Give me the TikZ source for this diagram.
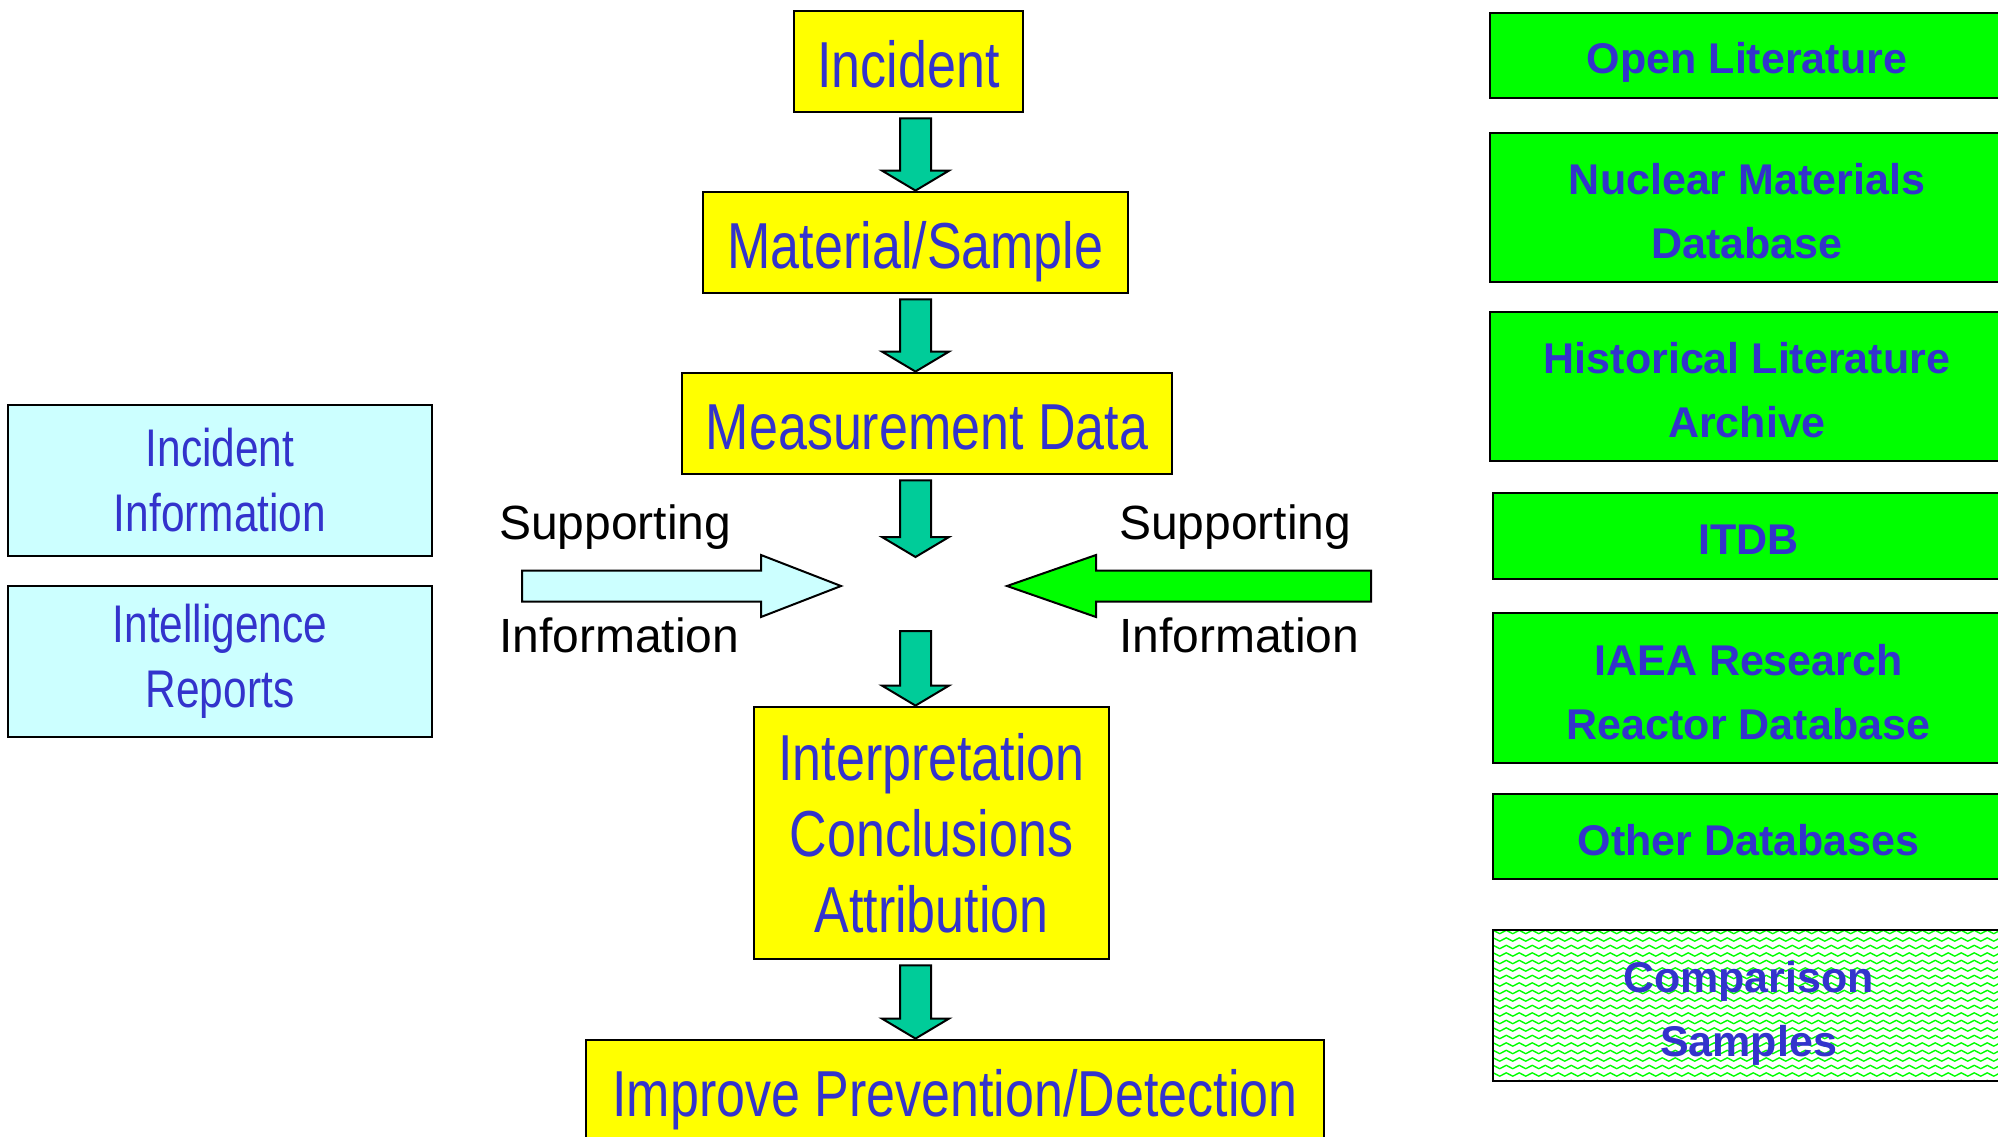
\documentclass[tikz,border=0pt]{standalone}
\usepackage{fontspec}
\setmainfont{Liberation Sans}
\newfontfamily\narrowfont[FakeStretch=0.8]{Liberation Sans}
\usetikzlibrary{calc,decorations.pathmorphing}
\definecolor{txtblue}{RGB}{51,51,204}
\definecolor{boxyellow}{RGB}{255,255,0}
\definecolor{boxgreen}{RGB}{0,255,0}
\definecolor{boxcyan}{RGB}{204,255,255}
\definecolor{arrowteal}{RGB}{0,204,153}
\tikzset{
  basebox/.style={draw=black, line width=2.8pt, align=center, inner sep=0pt, text=txtblue},
  flow/.style={basebox, fill=boxyellow, font=\narrowfont\fontsize{65}{76}\selectfont},
  flowone/.style={flow, text height=52pt, text depth=0pt},
  side/.style={basebox, fill=boxcyan, font=\narrowfont\fontsize{53}{65}\selectfont, minimum width=424pt, minimum height=151pt},
  srcbox/.style={basebox, fill=boxgreen, font=\bfseries\fontsize{43}{64}\selectfont},
  srcone/.style={srcbox, text height=37pt, text depth=0pt},
  srctwo/.style={srcbox, text height=102pt, text depth=0pt},
  lbl/.style={anchor=base west, inner sep=0pt, font=\fontsize{48}{58}\selectfont, text=black},
  blockarrow/.style={draw=black, line width=2pt, fill=arrowteal, line join=miter},
}
\newcommand\blockdown[2]{%
  \draw[blockarrow] let \p1=(axis |- #1), \p2=(axis |- #2) in
    (\x1-15.5pt,\y1-5pt) -- (\x1+15.5pt,\y1-5pt) -- (\x1+15.5pt,\y2+20pt) --
    (\x1+33.5pt,\y2+20pt) -- (\x2,\y2) -- (\x1-33.5pt,\y2+20pt) --
    (\x1-15.5pt,\y2+20pt) -- cycle;}
\begin{document}
\begin{tikzpicture}[x=1pt,y=-1pt]
\useasboundingbox (0,0) rectangle (1998,1137);
\begin{scope}
\clip (0,0) rectangle (1998,1137);
\coordinate (axis) at (915.5,0);
% main flow
\node[flowone, minimum width=229pt, minimum height=101pt] (inc) at (908.5,61.5) {Incident};
\node[flowone, minimum width=425pt, minimum height=101pt] (mat) at (915.5,242.5) {Material/Sample};
\node[flowone, minimum width=490pt, minimum height=101pt] (meas) at (927,423.5) {Measurement Data};
\node[flow, minimum width=355pt, minimum height=252pt] (interp) at (931.5,833) {Interpretation\\Conclusions\\Attribution};
\node[flowone, minimum width=738pt, minimum height=101pt] (impr) at (955,1090.5) {Improve Prevention/Detection};
\coordinate (hubin) at (915.5,557);
\coordinate (hubout) at (915.5,626);
\blockdown{inc.south}{mat.north}
\blockdown{mat.south}{meas.north}
\blockdown{meas.south}{hubin}
\blockdown{hubout}{interp.north}
\blockdown{interp.south}{impr.north}
% supporting information arrows
\coordinate (ltail) at (522,586);
\coordinate (ltip) at (841,586);
\coordinate (rtail) at (1371,586);
\coordinate (rtip) at (1007,586);
\draw[blockarrow, fill=boxcyan] let \p1=(ltail), \p2=(ltip) in
  (\x1,\y1+15.5pt) -- (\x2-80pt,\y1+15.5pt) -- (\x2-80pt,\y1+31pt) -- (\x2,\y2) --
  (\x2-80pt,\y1-31pt) -- (\x2-80pt,\y1-15.5pt) -- (\x1,\y1-15.5pt) -- cycle;
\draw[blockarrow, fill=boxgreen] let \p1=(rtail), \p2=(rtip) in
  (\x1,\y1+15.5pt) -- (\x2+89pt,\y1+15.5pt) -- (\x2+89pt,\y1+31pt) -- (\x2,\y2) --
  (\x2+89pt,\y1-31pt) -- (\x2+89pt,\y1-15.5pt) -- (\x1,\y1-15.5pt) -- cycle;
\node[lbl] (lsup) at (499,539) {Supporting};
\node[lbl] (linf) at (499,652) {Information};
\node[lbl] (rsup) at (1119,539) {Supporting};
\node[lbl] (rinf) at (1119,652) {Information};
% left boxes
\node[side] (iinfo) at (220,480.5) {Incident\\Information};
\node[side] (intel) at (220,661.5) {Intelligence\\Reports};
% right boxes
\node[srcone, minimum width=514pt, minimum height=85pt] (open) at (1747,55.5) {Open Literature};
\node[srctwo, minimum width=514pt, minimum height=149pt] (nuc) at (1747,207.5) {Nuclear Materials\\Database};
\node[srctwo, minimum width=514pt, minimum height=149pt] (hist) at (1747,386.5) {Historical Literature\\Archive};
\node[srcone, minimum width=511pt, minimum height=86pt] (itdb) at (1748.5,536) {ITDB};
\node[srctwo, minimum width=511pt, minimum height=150pt] (iaea) at (1748.5,688) {IAEA Research\\Reactor Database};
\node[srcone, minimum width=511pt, minimum height=85pt] (other) at (1748.5,836.5) {Other Databases};
\begin{scope}
\clip (1493,930) rectangle (2004,1081);
\foreach \k in {0,...,20}
  \draw[boxgreen, line width=1.4pt, decorate, decoration={zigzag, segment length=13pt, amplitude=1.7pt}]
    (1490,932+7.5*\k) -- (2010,932+7.5*\k);
\end{scope}
\node[srctwo, fill=none, minimum width=511pt, minimum height=151pt] (comp) at (1748.5,1005.5) {Comparison\\Samples};
\end{scope}
\end{tikzpicture}
\end{document}
